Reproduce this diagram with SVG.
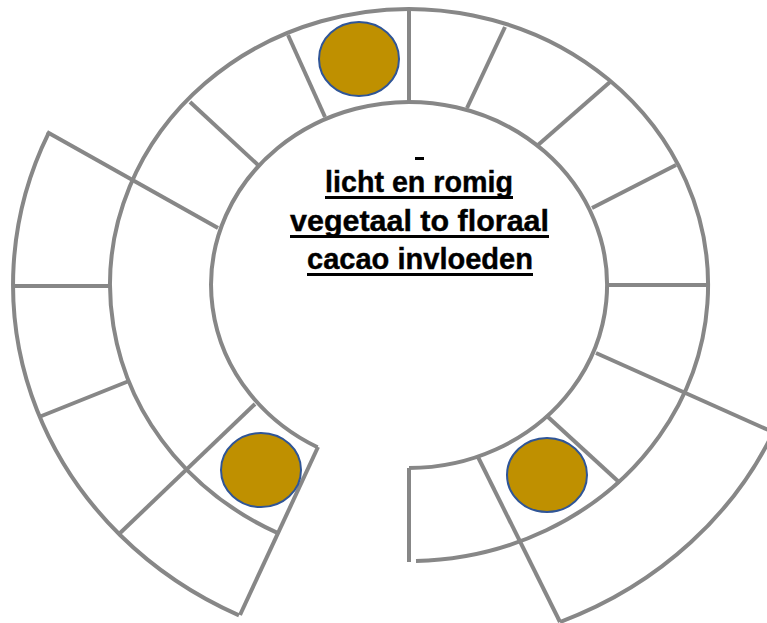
<svg xmlns="http://www.w3.org/2000/svg" width="767" height="623" viewBox="0 0 767 623">
<style>
.ring{fill:none;stroke:#878787;stroke-width:4}
.sp{stroke:#878787;stroke-width:4;fill:none}
.dot{fill:#BF9000;stroke:#2F5597;stroke-width:2}
.t{font-family:"Liberation Sans",Arial,sans-serif;font-weight:bold;font-size:29px;fill:#000;text-anchor:middle;stroke:#000;stroke-width:0.4}
.ul{fill:#000}
</style>
<rect width="767" height="623" fill="#fff"/>
<g id="rings">
<path class="ring" d="M317.6 447.3 A198 183 0 1 1 409 468"/>
<path class="ring" d="M277.9 533.1 A299 276 0 1 1 416 561"/>
<path class="ring" d="M239 615.3 A396 366 0 0 1 48.6 133.2"/>
<path class="ring" d="M778 422 A396 366 0 0 1 560 622"/>
</g>
<g id="connectors">
<line class="sp" x1="409" y1="102" x2="409" y2="9"/>
<line class="sp" x1="325" y1="117" x2="288" y2="35"/>
<line class="sp" x1="467" y1="108" x2="505" y2="27"/>
<line class="sp" x1="538" y1="145" x2="610" y2="82"/>
<line class="sp" x1="592" y1="208" x2="676" y2="165"/>
<line class="sp" x1="607" y1="285" x2="710" y2="285"/>
<line class="sp" x1="596" y1="353" x2="775" y2="433"/>
<line class="sp" x1="548" y1="417" x2="620" y2="483"/>
<line class="sp" x1="478" y1="457" x2="560" y2="622"/>
<line class="sp" x1="409" y1="468" x2="409" y2="562"/>
<line class="sp" x1="318" y1="447" x2="240" y2="615"/>
<line class="sp" x1="255" y1="404" x2="118" y2="535"/>
<line class="sp" x1="39" y1="417" x2="129" y2="381"/>
<line class="sp" x1="13" y1="286" x2="110" y2="286"/>
<line class="sp" x1="218" y1="228" x2="47" y2="132"/>
<line class="sp" x1="258" y1="165" x2="190" y2="102"/>
</g>
<g id="token-top"><ellipse class="dot" cx="359" cy="59" rx="40" ry="37"/></g>
<g id="token-right"><ellipse class="dot" cx="547" cy="475" rx="40" ry="37"/></g>
<g id="token-left"><ellipse class="dot" cx="261" cy="470" rx="40" ry="37"/></g>
<g id="label">
<rect class="ul" x="415" y="157" width="9" height="3"/>
<text class="t" x="419" y="192" textLength="188" lengthAdjust="spacingAndGlyphs">licht en romig</text>
<rect class="ul" x="325" y="196" width="188" height="3"/>
<text class="t" x="419.5" y="231" textLength="259" lengthAdjust="spacingAndGlyphs">vegetaal to floraal</text>
<rect class="ul" x="290" y="235" width="259" height="3"/>
<text class="t" x="420" y="269" textLength="226" lengthAdjust="spacingAndGlyphs">cacao invloeden</text>
<rect class="ul" x="307" y="273" width="226" height="3"/>
</g>
</svg>
